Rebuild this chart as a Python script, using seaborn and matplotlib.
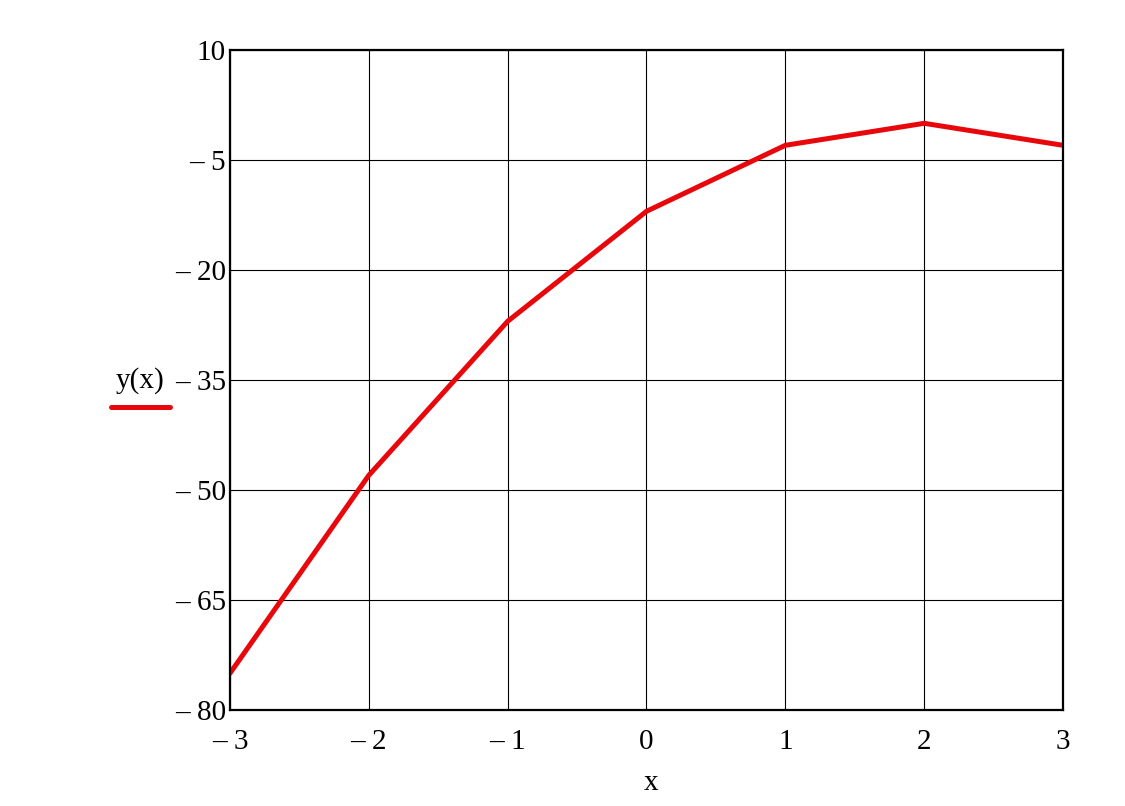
import matplotlib
matplotlib.use("Agg")
import matplotlib.pyplot as plt
import numpy as np
import pandas as pd
import seaborn as sns
from matplotlib.lines import Line2D

# values
x_vals = [-3, -2, -1, 0, 1, 2, 3]
y_vals = [-75, -48, -27, -12, -3, 0, -3]
x_ticks = [-3, -2, -1, 0, 1, 2, 3]
y_ticks = [10, -5, -20, -35, -50, -65, -80]


def fmt(v):
    # Mathcad style minus: en dash followed by a space
    return f"\u2013 {abs(v)}" if v < 0 else f"{v}"


sns.set_style("white")
plt.rcParams["font.family"] = ["Liberation Serif", "DejaVu Serif"]
plt.rcParams["text.color"] = "black"
plt.rcParams["xtick.color"] = "black"
plt.rcParams["ytick.color"] = "black"

df = pd.DataFrame({"x": x_vals, "y": y_vals})

fig = plt.figure(figsize=(11.25, 8.06), dpi=100)
ax = fig.add_axes([0.2044, 0.1191, 0.7405, 0.8189])

sns.lineplot(data=df, x="x", y="y", color="#e8080c", linewidth=3.6, ax=ax)

ax.set_xlim(-3, 3)
ax.set_ylim(-80, 10)
ax.set_xticks(x_ticks)
ax.set_yticks(y_ticks)
ax.set_xticklabels([fmt(v) for v in x_ticks], fontsize=21)
ax.set_yticklabels([fmt(v) for v in y_ticks], fontsize=21)
ax.tick_params(axis="y", length=0, pad=3)
ax.tick_params(axis="x", length=0, pad=14)
ax.grid(True, color="black", linewidth=0.8)
for s in ax.spines.values():
    s.set_color("black")
    s.set_linewidth(1.6)
ax.set_xlabel("")
ax.set_ylabel("")

# axis labels placed like the original
fig.text(651 / 1125, 1 - 783 / 806, "x", fontsize=21, ha="center", va="center")
fig.text(140 / 1125, 1 - 381 / 806, "y(x)", fontsize=21, ha="center", va="center")
fig.add_artist(Line2D([111 / 1125, 170 / 1125], [1 - 407 / 806, 1 - 407 / 806],
                      color="#e8080c", linewidth=3.6, solid_capstyle="round"))

fig.savefig("out.png", dpi=100, facecolor="white")
